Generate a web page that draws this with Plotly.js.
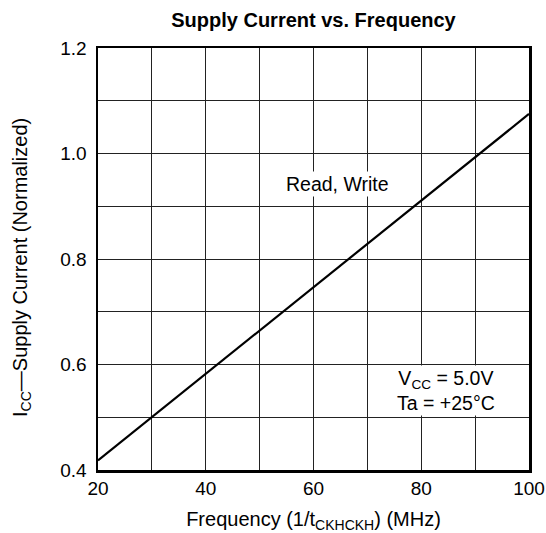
<!DOCTYPE html>
<html>
<head>
<meta charset="utf-8">
<script src="https://cdn.plot.ly/plotly-3.0.1.min.js"></script>
<style>html,body{margin:0;padding:0;background:#fff;}</style>
</head>
<body>
<div id="chart" style="width:546px;height:533px;"></div>
<script>
const frequency = [20, 100];
const supplyCurrent = [0.418, 1.075];
const xTicks = [20, 40, 60, 80, 100];
const yTicks = [0.4, 0.6, 0.8, 1.0, 1.2];
const yTickLabels = ['0.4', '0.6', '0.8', '1.0', '1.2'];

const font = 'Liberation Sans, Arial, sans-serif';

Plotly.newPlot('chart', [{
  x: frequency,
  y: supplyCurrent,
  mode: 'lines',
  line: {color: '#000', width: 2.2},
  hoverinfo: 'skip',
  showlegend: false
}], {
  width: 546, height: 533,
  margin: {l: 98, r: 17, t: 48, b: 63},
  paper_bgcolor: '#fff', plot_bgcolor: '#fff',
  font: {family: font, color: '#000', size: 19},
  title: {text: '<b>Supply Current vs. Frequency</b>', font: {size: 20, family: font}, xref: 'paper', x: 0.5, xanchor: 'center', yref: 'container', y: 0.962, yanchor: 'middle'},
  xaxis: {
    range: [20, 100], tickvals: xTicks, ticks: '', ticklen: 0,
    showgrid: true, gridcolor: '#222', gridwidth: 1,
    minor: {dtick: 10, showgrid: true, gridcolor: '#222', gridwidth: 1},
    showline: true, linecolor: '#000', linewidth: 2.5, mirror: true,
    zeroline: false, tickfont: {size: 19}, automargin: false,
    title: {text: 'Frequency (1/t<sub>CKHCKH</sub>) (MHz)', font: {size: 20}, standoff: 15}
  },
  yaxis: {
    range: [0.4, 1.2], tickvals: yTicks, ticktext: yTickLabels, ticks: '', ticklen: 0,
    ticklabelstandoff: 5,
    showgrid: true, gridcolor: '#222', gridwidth: 1,
    minor: {dtick: 0.1, showgrid: true, gridcolor: '#222', gridwidth: 1},
    showline: true, linecolor: '#000', linewidth: 2.5, mirror: true,
    zeroline: false, tickfont: {size: 19}, automargin: false
  },
  annotations: [
    {x: -0.176, y: 0.479, xref: 'paper', yref: 'paper', xanchor: 'center', yanchor: 'middle', textangle: -90,
     text: 'I<sub>CC</sub>—Supply Current (Normalized)', showarrow: false, font: {size: 20}},
    {x: 64.5, y: 0.943, xref: 'x', yref: 'y', text: 'Read, Write', showarrow: false, font: {size: 19.5}, bgcolor: '#fff'},
    {x: 84.6, y: 0.550, xref: 'x', yref: 'y', text: 'V<sub>CC</sub> = 5.0V<br>Ta = +25°C', showarrow: false, font: {size: 19.5}, bgcolor: '#fff', align: 'center'}
  ]
}, {staticPlot: true});
</script>
</body>
</html>
